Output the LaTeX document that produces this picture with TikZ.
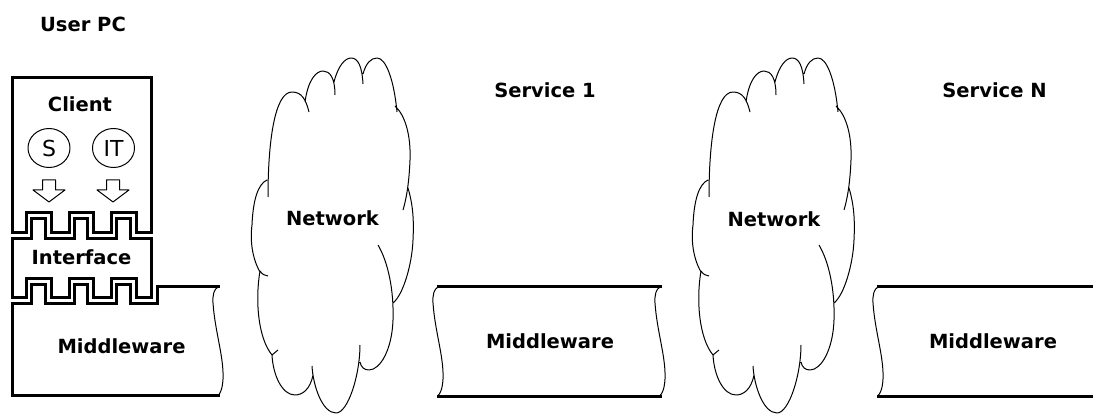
\documentclass[tikz,border=0pt]{standalone}
\usepackage{fontspec}
\setmainfont{DejaVu Sans}
\usetikzlibrary{shapes.geometric}
\begin{document}
\begin{tikzpicture}[x=1pt,y=-1pt,
  heavy/.style={line width=3pt, line join=miter, line cap=rect},
  fine/.style={line width=1pt, line join=round},
  label/.style={font=\bfseries\fontsize{19.5}{23}\selectfont, inner sep=0pt},
  token/.style={draw, fine, ellipse, minimum width=42pt, minimum height=39pt,
                inner sep=0pt, font=\fontsize{22}{25}\selectfont},
  blockarrow/.pic={
    \draw[fine] (-6.5,-11) -- (6.5,-11) -- (6.5,-1) -- (16,-1) -- (0,11)
                -- (-16,-1) -- (-6.5,-1) -- cycle;},
  tapeedge/.pic={
    \draw[fine] (0,0) .. controls (-4,2) and (-5.5,8) .. (-5,16)
                .. controls (-3,45) and (6,70) .. (5,92)
                .. controls (4.5,102) and (2,107) .. (0,108.5);},
  netcloud/.pic={
    \draw[fine]
     (268,197) .. controls (268,140) and (275,92) .. (292,92)
               .. controls (302,92) and (306,100) .. (309,112)
     (305,102) .. controls (308,80) and (316,71) .. (323,71)
               .. controls (330,71) and (335,78) .. (335,95)
     (334,82)  .. controls (338,66) and (345,58) .. (351,58)
               .. controls (358,58) and (362,66) .. (363,84)
     (363,74)  .. controls (366,63) and (371,58) .. (377,58)
               .. controls (386,58) and (394,80) .. (397,112)
     (395,106) .. controls (405,115) and (411,135) .. (410,160)
               .. controls (409,185) and (406,200) .. (403,210)
     (408,188) .. controls (413,205) and (414,220) .. (413,240)
               .. controls (412,265) and (403,295) .. (393,303)
     (378,245) .. controls (388,262) and (394,290) .. (393,320)
               .. controls (392,350) and (380,370) .. (369,370)
               .. controls (364,370) and (361,367) .. (360,362)
     (360,345) .. controls (360,375) and (348,413) .. (336,413)
               .. controls (322,413) and (313,385) .. (312,366)
     (313,375) .. controls (310,390) and (302,395) .. (295,395)
               .. controls (282,395) and (273,375) .. (272,355) -- (278,350)
     (272,355) .. controls (258,338) and (255,300) .. (260,271)
               .. controls (262,274) and (265,276) .. (268,276)
     (260,272) .. controls (252,258) and (250,240) .. (252,225)
               .. controls (253,200) and (258,184) .. (267,180);}
]
\useasboundingbox (0,0) rectangle (1093,414);

% client box with notched lower edge
\draw[heavy] (12,78) -- (151.5,78) -- (151.5,233) -- (136,233) -- (136,213)
  -- (111,213) -- (111,233) -- (93,233) -- (93,213) -- (69,213) -- (69,233)
  -- (51,233) -- (51,213) -- (26,213) -- (26,233) -- (12,233) -- cycle;

% interface block: teeth on top, notches below
\draw[heavy] (12,238.5) -- (31.5,238.5) -- (31.5,218.5) -- (45.5,218.5)
  -- (45.5,238.5) -- (74.5,238.5) -- (74.5,218.5) -- (87.5,218.5)
  -- (87.5,238.5) -- (116.5,238.5) -- (116.5,218.5) -- (130.5,218.5)
  -- (130.5,238.5) -- (151.5,238.5) -- (151.5,298) -- (136,298) -- (136,279)
  -- (111,279) -- (111,298) -- (93,298) -- (93,279) -- (69,279) -- (69,298)
  -- (51,298) -- (51,279) -- (26,279) -- (26,298) -- (12,298) -- cycle;

% middleware on the user PC, teeth plugged into the interface
\draw[heavy] (218,287) -- (157,287) -- (157,304) -- (130.5,304) -- (130.5,284.5)
  -- (116.5,284.5) -- (116.5,304) -- (87.5,304) -- (87.5,284.5) -- (74.5,284.5)
  -- (74.5,304) -- (45.5,304) -- (45.5,284.5) -- (31.5,284.5) -- (31.5,304)
  -- (12,304) -- (12,395) -- (218,395);
\pic at (218,287) {tapeedge};

% middleware of service 1
\draw[heavy] (438,287) -- (660,287);
\draw[heavy] (438,396) -- (660,396);
\pic at (438,287) {tapeedge};
\pic at (660,287) {tapeedge};

% middleware of service N
\draw[heavy] (878,287) -- (1093,287);
\draw[heavy] (878,396) -- (1093,396);
\pic at (878,287) {tapeedge};

% network clouds
\pic at (0,0) {netcloud};
\pic at (441,0) {netcloud};

% client contents
\node[token] (s) at (49,148) {S};
\node[token] (it) at (113.5,148) {IT};
\pic (sarrow) at (49,191) {blockarrow};
\pic (itarrow) at (113,191) {blockarrow};

% labels
\node[label] (userpc) at (83,24) {User PC};
\node[label] (client) at (80,104) {Client};
\node[label] (iface) at (81.5,257) {Interface};
\node[label] (mw1) at (121.5,346) {Middleware};
\node[label] (net1) at (332.5,218) {Network};
\node[label] (svc1) at (545,90) {Service 1};
\node[label] (mw2) at (550,341.5) {Middleware};
\node[label] (net2) at (774,219) {Network};
\node[label] (svcn) at (994.5,90) {Service N};
\node[label] (mw3) at (993,341.5) {Middleware};
\end{tikzpicture}
\end{document}
